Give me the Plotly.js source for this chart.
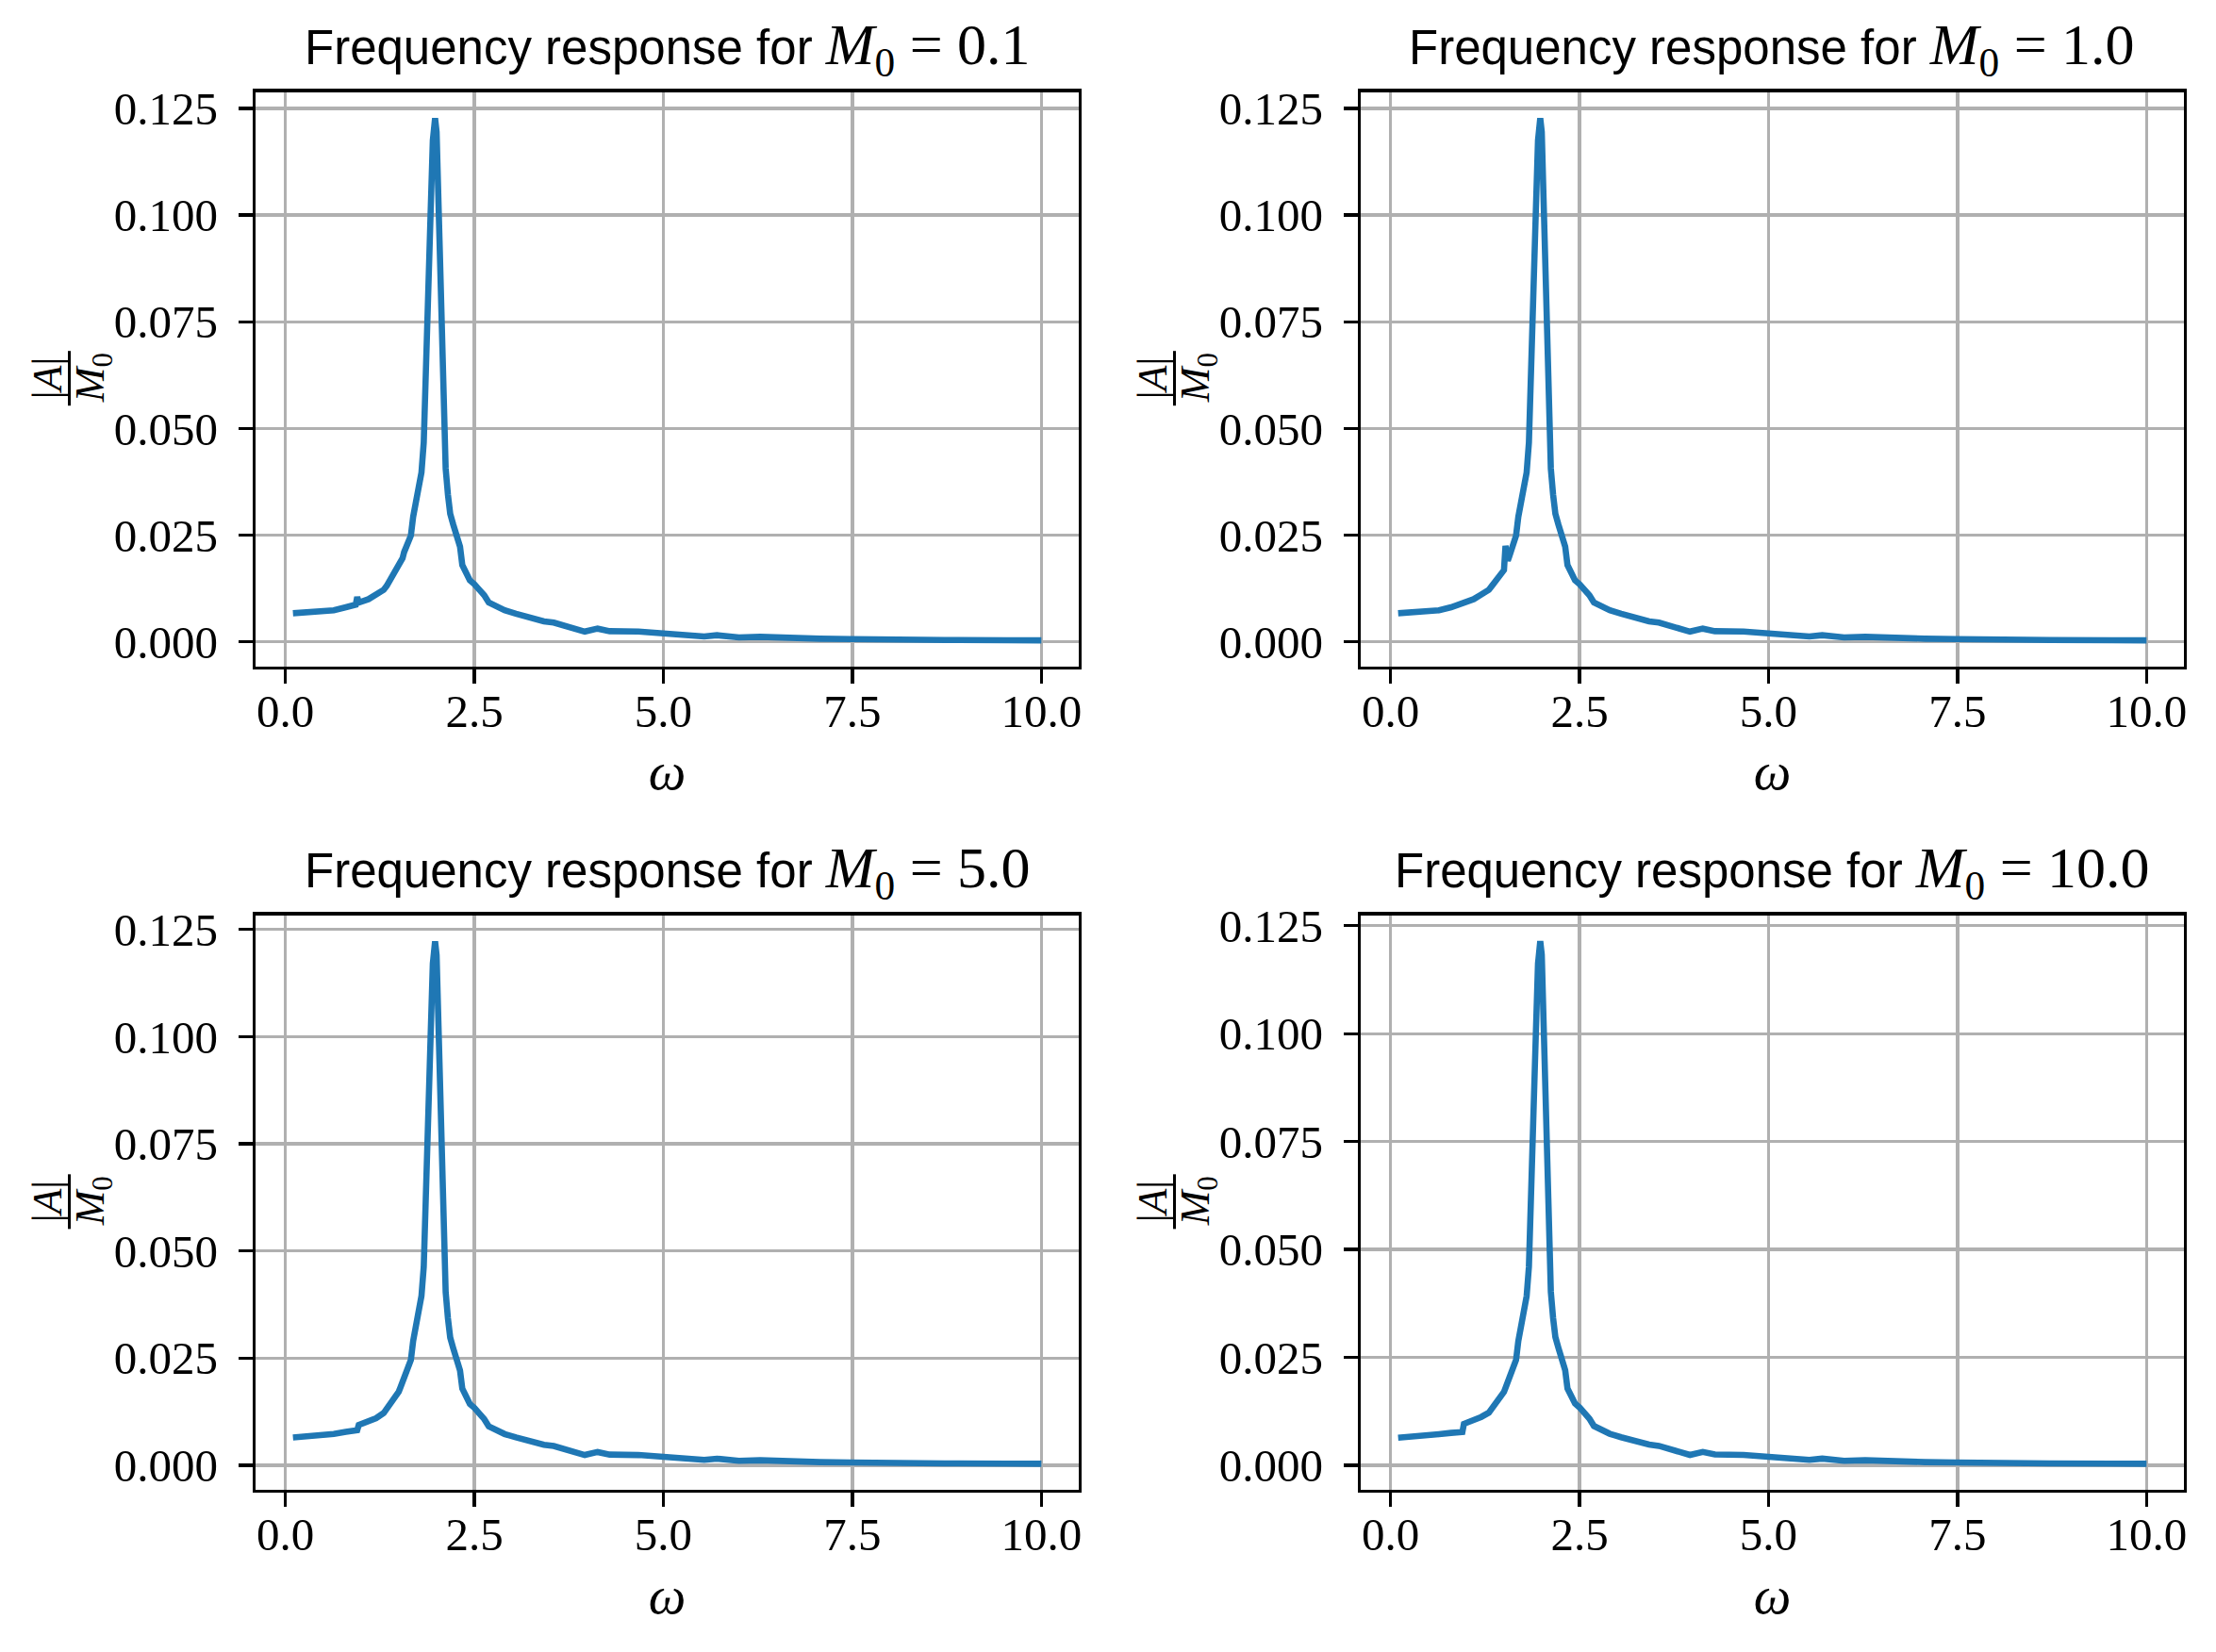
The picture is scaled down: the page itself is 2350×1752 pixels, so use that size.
<!DOCTYPE html>
<html>
<head>
<meta charset="utf-8">
<script src="https://cdn.plot.ly/plotly-3.0.1.min.js"></script>
<style>html,body{margin:0;padding:0;background:#fff;}#chart{width:2350px;height:1752px;}</style>
</head>
<body>
<div id="chart"></div>
<script>
// ---- data ----
const omega = [
  0.1, 0.3, 0.5, 0.64, 0.8, 0.93, 0.95, 0.97, 1.1, 1.2,
  1.3, 1.34, 1.4, 1.47, 1.5, 1.52, 1.55, 1.57, 1.62, 1.66,
  1.69, 1.72, 1.76, 1.8, 1.83, 1.86, 1.89, 1.92, 1.95, 1.98,
  2.0, 2.03, 2.07, 2.1, 2.12, 2.15, 2.18, 2.22, 2.27, 2.31,
  2.34, 2.38, 2.44, 2.5, 2.57, 2.63, 2.69, 2.8, 2.85, 2.9,
  3.05, 3.21, 3.42, 3.55, 3.67, 3.79, 3.96, 4.13, 4.29, 4.67,
  5.0, 5.17, 5.54, 5.71, 6.0, 6.28, 6.66, 7.07, 7.48, 7.89,
  8.72, 9.54, 10.0
];
const respM01 = [
  0.0067, 0.0069, 0.0072, 0.0074, 0.0081, 0.0087, 0.0105, 0.0092, 0.0100, 0.0111,
  0.0122, 0.0131, 0.0149, 0.0166, 0.0175, 0.0183, 0.0196, 0.0210, 0.0231, 0.0249,
  0.0293, 0.0319, 0.0354, 0.0397, 0.0467, 0.0694, 0.0887, 0.1000, 0.1175, 0.1227,
  0.1195, 0.1000, 0.0750, 0.0500, 0.0406, 0.0345, 0.0300, 0.0275, 0.0250, 0.0223,
  0.0180, 0.0163, 0.0144, 0.0135, 0.0122, 0.0109, 0.0092, 0.0083, 0.0079, 0.0074,
  0.0066, 0.0057, 0.0048, 0.0045, 0.0039, 0.0035, 0.0024, 0.0031, 0.0025, 0.0024,
  0.0019, 0.0018, 0.00125, 0.00155, 0.00103, 0.00118, 0.00088, 0.00074, 0.00066, 0.00052,
  0.00044, 0.00037, 0.00035
];
const respM1 = [
  0.0067, 0.0069, 0.0072, 0.0074, 0.0081, 0.0088, 0.0090, 0.0092, 0.0100, 0.0111,
  0.0122, 0.0131, 0.0147, 0.0160, 0.0168, 0.0225, 0.0190, 0.0200, 0.0229, 0.0249,
  0.0293, 0.0319, 0.0354, 0.0397, 0.0467, 0.0694, 0.0887, 0.1000, 0.1175, 0.1227,
  0.1195, 0.1000, 0.0750, 0.0500, 0.0406, 0.0345, 0.0300, 0.0275, 0.0250, 0.0223,
  0.0180, 0.0163, 0.0144, 0.0135, 0.0122, 0.0109, 0.0092, 0.0083, 0.0079, 0.0074,
  0.0066, 0.0057, 0.0048, 0.0045, 0.0039, 0.0035, 0.0024, 0.0031, 0.0025, 0.0024,
  0.0019, 0.0018, 0.00125, 0.00155, 0.00103, 0.00118, 0.00088, 0.00074, 0.00066, 0.00052,
  0.00044, 0.00037, 0.00035
];
const respM5 = [
  0.0065, 0.0067, 0.0070, 0.0073, 0.0078, 0.0081, 0.0082, 0.0094, 0.0101, 0.0110,
  0.0122, 0.0132, 0.0147, 0.0162, 0.0172, 0.0181, 0.0194, 0.0205, 0.0229, 0.0246,
  0.0290, 0.0316, 0.0352, 0.0395, 0.0463, 0.0690, 0.0883, 0.0995, 0.1170, 0.1222,
  0.1190, 0.0995, 0.0745, 0.0497, 0.0404, 0.0343, 0.0298, 0.0273, 0.0248, 0.0221,
  0.0179, 0.0162, 0.0143, 0.0134, 0.0121, 0.0108, 0.0091, 0.0082, 0.0078, 0.0073,
  0.0065, 0.0057, 0.0048, 0.0045, 0.0039, 0.0035, 0.0024, 0.0031, 0.0025, 0.0024,
  0.0019, 0.0018, 0.00125, 0.00155, 0.00103, 0.00118, 0.00088, 0.00074, 0.00066, 0.00052,
  0.00044, 0.00037, 0.00035
];
const respM10 = [
  0.0064, 0.0066, 0.0069, 0.0072, 0.0075, 0.0077, 0.0077, 0.0096, 0.0104, 0.0112,
  0.0122, 0.0131, 0.0146, 0.0161, 0.0170, 0.0179, 0.0192, 0.0203, 0.0227, 0.0244,
  0.0288, 0.0314, 0.0350, 0.0392, 0.0460, 0.0686, 0.0878, 0.0990, 0.1162, 0.1214,
  0.1183, 0.0990, 0.0742, 0.0495, 0.0402, 0.0341, 0.0297, 0.0272, 0.0247, 0.0220,
  0.0178, 0.0161, 0.0143, 0.0134, 0.0121, 0.0108, 0.0091, 0.0082, 0.0078, 0.0073,
  0.0065, 0.0057, 0.0048, 0.0045, 0.0039, 0.0035, 0.0024, 0.0031, 0.0025, 0.0024,
  0.0019, 0.0018, 0.00125, 0.00155, 0.00103, 0.00118, 0.00088, 0.00074, 0.00066, 0.00052,
  0.00044, 0.00037, 0.00035
];
const m0Labels = ['0.1', '1.0', '5.0', '10.0'];
const xTicks = [0, 2.5, 5, 7.5, 10];
const yTicks = [0, 0.025, 0.05, 0.075, 0.1, 0.125];

// ---- layout geometry (pixels of a 2350 x 1752 page) ----
const W = 2350, H = 1752;
const series = [respM01, respM1, respM5, respM10];
const cols = [[271, 1144], [1443, 2316]];
const rows = [[97.7, 706.7], [970.7, 1580]];
const yRanges = [[-0.00575, 0.12882], [-0.00575, 0.12882], [-0.00572, 0.1283], [-0.00568, 0.1274]];
const serif = 'Liberation Serif';
const sans = 'Liberation Sans';

const data = [];
const layout = {
  width: W, height: H,
  margin: {l: 0, r: 0, t: 0, b: 0},
  paper_bgcolor: '#ffffff', plot_bgcolor: '#ffffff',
  showlegend: false,
  annotations: [], shapes: []
};

for (let i = 0; i < 4; i++) {
  const r = Math.floor(i / 2), c = i % 2;
  const sfx = i === 0 ? '' : String(i + 1);
  const [x0, x1] = cols[c];
  const [y0, y1] = rows[r];
  data.push({
    x: omega, y: series[i], type: 'scatter', mode: 'lines',
    line: {color: '#1f77b4', width: 6.6},
    xaxis: 'x' + sfx, yaxis: 'y' + sfx, hoverinfo: 'skip'
  });
  const common = {
    showline: true, mirror: true, linecolor: '#000', linewidth: 3.3,
    ticks: 'outside', ticklen: 15, tickwidth: 3.3, tickcolor: '#000',
    showgrid: true, gridcolor: '#b0b0b0', gridwidth: 3.3,
    zeroline: false, tickfont: {family: serif, size: 49, color: '#000'}
  };
  layout['xaxis' + sfx] = Object.assign({}, common, {
    domain: [x0 / W, x1 / W], anchor: 'y' + sfx,
    range: [-0.395, 10.495], tickmode: 'array', tickvals: xTicks,
    ticktext: xTicks.map(v => v.toFixed(1)),
    ticklabelstandoff: -13,
    title: {text: '<i>ω</i>', font: {family: serif, size: 56, color: '#000'}, standoff: 18}
  });
  layout['yaxis' + sfx] = Object.assign({}, common, {
    domain: [1 - y1 / H, 1 - y0 / H], anchor: 'x' + sfx,
    range: yRanges[i], tickmode: 'array', tickvals: yTicks,
    ticktext: yTicks.map(v => v.toFixed(3)),
    ticklabelstandoff: 12
  });
  // subplot title
  layout.annotations.push({
    xref: 'paper', yref: 'paper', x: (x0 + x1) / 2 / W, y: 1 - (y0 - 46) / H,
    xanchor: 'center', yanchor: 'middle', showarrow: false,
    text: 'Frequency response for <span style="font-family:' + serif + ';font-size:62px"><i>M</i><sub>0</sub>\u2005=\u2005' + m0Labels[i] + '</span>',
    font: {family: sans, size: 51, color: '#000'}
  });
  // y label as a rotated fraction |A| / M0
  const yc = (y0 + y1) / 2 - 1;
  const lx = x0 - 271;
  layout.annotations.push({
    xref: 'paper', yref: 'paper', x: (lx + 50) / W, y: 1 - yc / H,
    xanchor: 'center', yanchor: 'middle', showarrow: false, textangle: -90,
    text: '|<i>A</i>|', font: {family: serif, size: 44, color: '#000'}
  });
  layout.annotations.push({
    xref: 'paper', yref: 'paper', x: (lx + 98) / W, y: 1 - yc / H,
    xanchor: 'center', yanchor: 'middle', showarrow: false, textangle: -90,
    text: '<i>M</i><sub>0</sub>', font: {family: serif, size: 44, color: '#000'}
  });
  layout.shapes.push({
    type: 'line', xref: 'paper', yref: 'paper',
    x0: (lx + 73.5) / W, x1: (lx + 73.5) / W,
    y0: 1 - (yc - 29) / H, y1: 1 - (yc + 29) / H,
    line: {color: '#000', width: 3}
  });
}

Plotly.newPlot('chart', data, layout, {staticPlot: true, displayModeBar: false});
</script>
</body>
</html>
